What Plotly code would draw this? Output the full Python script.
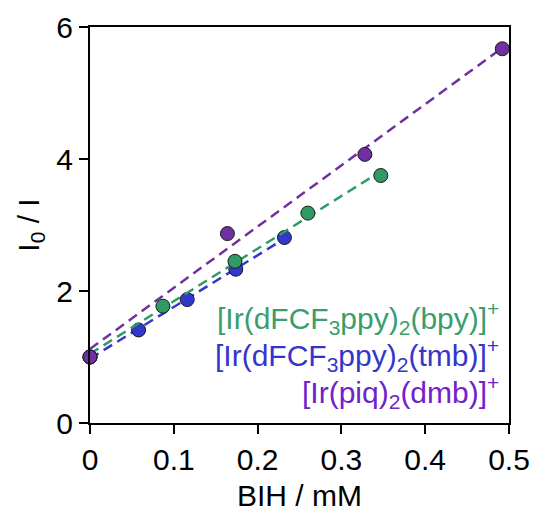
import numpy as np
import plotly.graph_objects as go

# Data
x_green = [0.0, 0.087, 0.173, 0.260, 0.347]
y_green = [1.0, 1.77, 2.45, 3.18, 3.75]

x_blue = [0.0, 0.058, 0.116, 0.174, 0.232]
y_blue = [1.0, 1.41, 1.87, 2.33, 2.81]

x_purple = [0.0, 0.164, 0.328, 0.492]
y_purple = [1.0, 2.87, 4.07, 5.67]

labels = [
    "[Ir(dFCF<sub>3</sub>ppy)<sub>2</sub>(bpy)]<sup>+</sup>",
    "[Ir(dFCF<sub>3</sub>ppy)<sub>2</sub>(tmb)]<sup>+</sup>",
    "[Ir(piq)<sub>2</sub>(dmb)]<sup>+</sup>",
]

x_ticks = [0, 0.1, 0.2, 0.3, 0.4, 0.5]
x_ticklabels = ["0", "0.1", "0.2", "0.3", "0.4", "0.5"]
y_ticks = [0, 2, 4, 6]

GREEN = "#2f9a64"
BLUE = "#3338cc"
PURPLE = "#7030a0"
TXT_GREEN = "#3a9e6c"
TXT_BLUE = "#3535cc"
TXT_PURPLE = "#7020cc"

FONT = "Liberation Sans, Arial, sans-serif"
FS = 30
LFS = 30

L, R, T, B = 90, 24, 27, 89
W, H = 533, 512

fig = go.Figure()

series = [
    (x_blue, y_blue, BLUE),
    (x_green, y_green, GREEN),
    (x_purple, y_purple, PURPLE),
]

for xs, ys, col in series:
    xa = np.array(xs)
    ya = np.array(ys)
    m, b = np.polyfit(xa, ya, 1)
    xl = np.array([0.0, xa.max()])
    fig.add_trace(go.Scatter(
        x=xl, y=m * xl + b, mode="lines",
        line=dict(color=col, width=2.5, dash="10px,6px"),
        showlegend=False, hoverinfo="skip", cliponaxis=False))
    fig.add_trace(go.Scatter(
        x=xs, y=ys, mode="markers",
        marker=dict(color=col, size=14, line=dict(color="#1a1a1a", width=1)),
        showlegend=False, cliponaxis=False))

fig.update_layout(
    width=W, height=H,
    margin=dict(l=L, r=R, t=T, b=B),
    plot_bgcolor="white", paper_bgcolor="white",
    font=dict(family=FONT, size=FS, color="black"),
    xaxis=dict(
        range=[0, 0.5], tickvals=x_ticks, ticktext=x_ticklabels,
        showgrid=False, zeroline=False, automargin=False,
        showline=True, linecolor="black", linewidth=2, mirror=True,
        ticks="outside", ticklen=9, tickwidth=2, tickcolor="black",
        tickfont=dict(size=FS),
        title=dict(text="BIH / mM", font=dict(size=FS), standoff=11),
    ),
    yaxis=dict(
        range=[0, 6], tickvals=y_ticks,
        showgrid=False, zeroline=False, automargin=False,
        showline=True, linecolor="black", linewidth=2, mirror=True,
        ticks="outside", ticklen=9, tickwidth=2, tickcolor="black",
        tickfont=dict(size=FS),
        title=dict(text="I<sub>0</sub> / I", font=dict(size=FS), standoff=8),
    ),
)

legend_colors = [TXT_GREEN, TXT_BLUE, TXT_PURPLE]
legend_y = [318, 355, 392]
for lab, col, yp in zip(labels, legend_colors, legend_y):
    fig.add_annotation(
        text=lab, xref="paper", yref="paper",
        x=(501 - L) / (W - L - R),
        y=(H - B - yp) / (H - T - B),
        xanchor="right", yanchor="middle", showarrow=False,
        font=dict(size=LFS, color=col, family=FONT))

fig.write_html("out.html")
